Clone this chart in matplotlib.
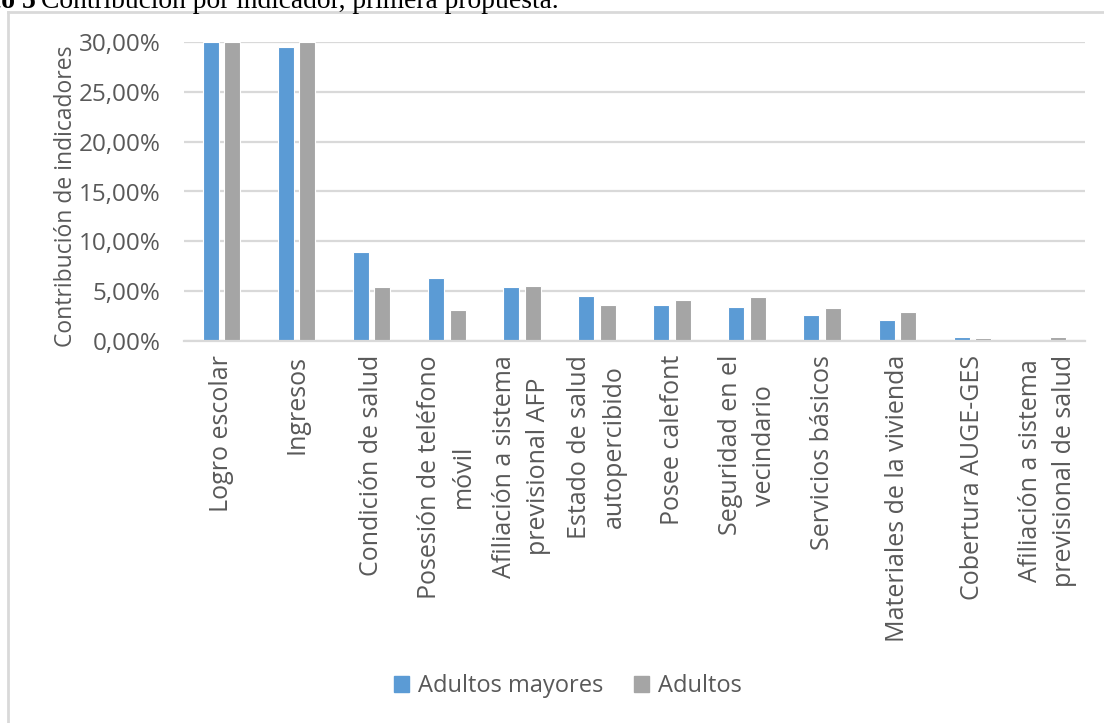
import matplotlib.pyplot as plt
import matplotlib.ticker as mticker
from matplotlib.patches import Patch
from matplotlib.lines import Line2D
import numpy as np

# indicator names (two-line ones are split as in the report)
categorias = ['Logro escolar', 'Ingresos', 'Condición de salud',
              'Posesión de teléfono\nmóvil', 'Afiliación a sistema\nprevisional AFP',
              'Estado de salud\nautopercibido', 'Posee calefont',
              'Seguridad en el\nvecindario', 'Servicios básicos',
              'Materiales de la vivienda', 'Cobertura AUGE-GES',
              'Afiliación a sistema\nprevisional de salud']
# contribution of each indicator, in percent
adultos_mayores = [30.0, 29.5, 8.9, 6.3, 5.4, 4.5, 3.6, 3.45, 2.6, 2.1, 0.45, 0.0]
adultos = [30.0, 30.0, 5.4, 3.1, 5.5, 3.6, 4.15, 4.4, 3.3, 2.9, 0.3, 0.45]

AZUL = '#5B9BD5'
GRIS = '#A5A5A5'
TEXTO = '#595959'
LINEA = '#D9D9D9'
fuente = 'Open Sans'
tam = 17

W, H = 1104, 723
fig = plt.figure(figsize=(W / 100, H / 100), dpi=100)
ax = fig.add_axes([184 / W, (H - 341) / H, (1085 - 184) / W, (341 - 42) / H])

x = np.arange(len(categorias))
ancho = 0.213
ax.bar(x - 0.143, np.array(adultos_mayores) / 100, ancho, color=AZUL,
       edgecolor='white', linewidth=0.8, zorder=3)
ax.bar(x + 0.143, np.array(adultos) / 100, ancho, color=GRIS,
       edgecolor='white', linewidth=0.8, zorder=3)

ax.set_xlim(-0.5, len(categorias) - 0.5)
ax.set_ylim(0, 0.30)
ax.set_yticks(np.arange(0, 0.301, 0.05))
ax.yaxis.set_major_formatter(mticker.FuncFormatter(
    lambda v, p: f'{v * 100:.2f}%'.replace('.', ',')))
ax.grid(axis='y', color=LINEA, linewidth=1.6, zorder=0)
ax.set_axisbelow(True)
for s in ax.spines.values():
    s.set_visible(False)
ax.axhline(0, color=LINEA, linewidth=1.6, zorder=4, clip_on=False)

ax.set_xticks(x)
ax.set_xticklabels(categorias, rotation=90, va='top', ha='center',
                   multialignment='center', fontsize=18, color=TEXTO,
                   family=fuente, linespacing=1.47)
ax.tick_params(axis='x', length=0, pad=10)
ax.tick_params(axis='y', length=0, pad=17, labelsize=17.5, labelcolor=TEXTO)
for t in ax.get_yticklabels():
    t.set_family(fuente)

ax.set_ylabel('Contribución de indicadores', fontsize=16.5, color=TEXTO,
              family=fuente)
ax.yaxis.set_label_coords(-0.118, 0.485)

# legend below the plot
handles = [Patch(color=AZUL), Patch(color=GRIS)]
fig.legend(handles, ['Adultos mayores', 'Adultos'], loc='center',
           bbox_to_anchor=(568 / W, 1 - 686 / H), ncol=2, frameon=False,
           prop={'family': fuente, 'size': tam}, labelcolor=TEXTO,
           handlelength=0.65, handleheight=0.65, handletextpad=0.38,
           columnspacing=1.27)

# chart frame: only left and top edges show
fig.add_artist(Line2D([8 / W, 8 / W], [0, 1 - 12 / H], color=LINEA,
                      linewidth=2, transform=fig.transFigure))
fig.add_artist(Line2D([8 / W, 1], [1 - 12 / H, 1 - 12 / H], color=LINEA,
                      linewidth=2, transform=fig.transFigure))

# caption above the chart, partly cut at the top
fig.text(36 / W, 1 - 8 / H, 'Gráfico 5', ha='right', va='baseline',
         family='Liberation Serif', fontsize=20, fontweight='bold', color='black')
fig.text(41 / W, 1 - 8 / H, 'Contribución por indicador, primera propuesta.',
         ha='left', va='baseline', family='Liberation Serif', fontsize=19.8,
         color='black')

fig.savefig('out.png', dpi=100, facecolor='white')
